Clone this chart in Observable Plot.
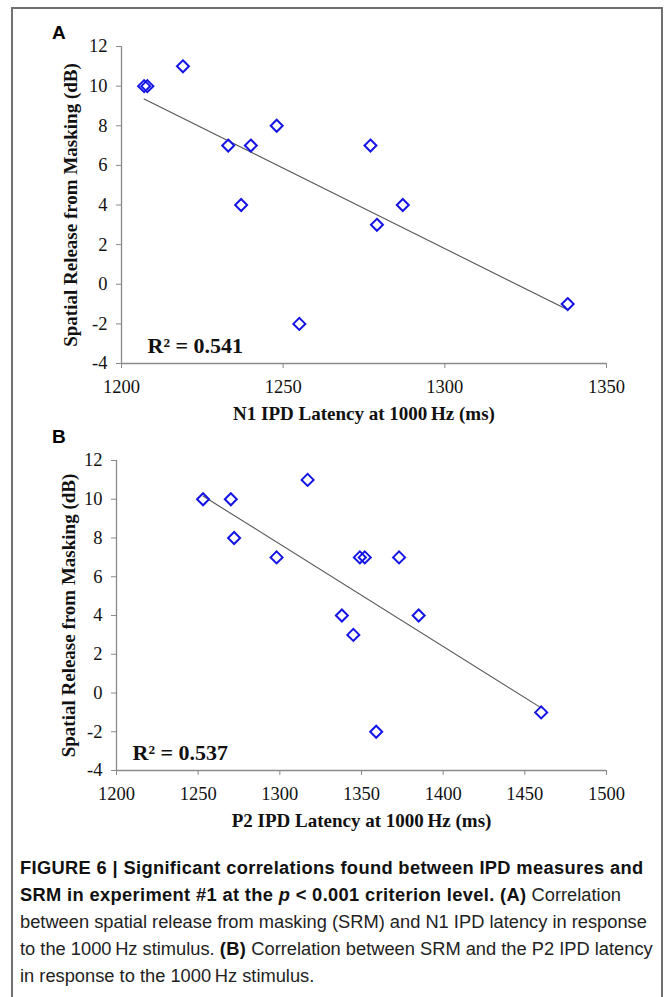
<!DOCTYPE html>
<html>
<head>
<meta charset="utf-8">
<script src="https://cdn.jsdelivr.net/npm/d3@7"></script>
<script src="https://cdn.jsdelivr.net/npm/@observablehq/plot@0.6"></script>
<style>
  html, body { margin: 0; padding: 0; background: #fff; }
  body { width: 667px; height: 997px; position: relative; overflow: hidden; }
  #frame { position: absolute; left: 11px; top: 7px; width: 652px; height: 1000px;
           border: 2px solid #707070; box-sizing: border-box; }
  .panel { position: absolute; left: 0; }
  .panel svg { overflow: visible; }
  .letter { position: absolute; font-family: "Liberation Sans", Arial, sans-serif;
            font-weight: bold; font-size: 19px; color: #000; }
  #caption { position: absolute; left: 20px; top: 854px; width: 640px;
             font-family: "Liberation Sans", Arial, sans-serif; font-size: 18.3px;
             line-height: 27px; color: #222; white-space: nowrap; }
  #caption b { color: #111; letter-spacing: 0.35px; }
</style>
</head>
<body>
<div id="frame"></div>
<div id="panelA" class="panel" style="top:0px"></div>
<div id="panelB" class="panel" style="top:420px"></div>
<div class="letter" style="left:52px; top:22px">A</div>
<div class="letter" style="left:52px; top:426px">B</div>
<div id="caption">
<b>FIGURE 6 | Significant correlations found between IPD measures and</b><br>
<b>SRM in experiment #1 at the <i>p</i> &lt; 0.001 criterion level. (A)</b> Correlation<br>
between spatial release from masking (SRM) and N1 IPD latency in response<br>
to the 1000&#8201;Hz stimulus. <b>(B)</b> Correlation between SRM and the P2 IPD latency<br>
in response to the 1000&#8201;Hz stimulus.
</div>
<script>
// ---- Data ----
const latencyA = [1207, 1208, 1219, 1233, 1240, 1248, 1237, 1255, 1277, 1279, 1287, 1338];
const srmA     = [10,   10,   11,   7,    7,    8,    4,    -2,   7,    3,    4,    -1];
const latencyB = [1253, 1270, 1272, 1298, 1317, 1338, 1345, 1349, 1352, 1373, 1385, 1359, 1460];
const srmB     = [10,   10,   8,    7,    11,   4,    3,    7,    7,    7,    4,    -2,   -1];

const yTicks  = [-4, -2, 0, 2, 4, 6, 8, 10, 12];
const xTicksA = [1200, 1250, 1300, 1350];
const xTicksB = [1200, 1250, 1300, 1350, 1400, 1450, 1500];

const yTitle  = "Spatial Release from Masking (dB)";
const xTitleA = "N1 IPD Latency at 1000\u2009Hz (ms)";
const xTitleB = "P2 IPD Latency at 1000\u2009Hz (ms)";
const r2A = "R\u00b2 = 0.541";
const r2B = "R\u00b2 = 0.537";

function makePanel({xs, ys, xTicks, xTitle, r2, ml, mr, mt, mb, h, yTitleDx, r2dx}) {
  const data = xs.map((x, i) => ({x, y: ys[i]}));
  const x0 = xTicks[0], x1 = xTicks[xTicks.length - 1];
  return Plot.plot({
    width: 667,
    height: h,
    marginLeft: ml, marginRight: mr, marginTop: mt, marginBottom: mb,
    style: {fontFamily: "'Liberation Serif', 'Times New Roman', serif", fontSize: "18px", background: "transparent", color: "#111", overflow: "visible"},
    x: {domain: [x0, x1], ticks: xTicks},
    y: {domain: [-4, 12], ticks: yTicks},
    marks: [
      Plot.ruleY([-4], {stroke: "#8a8a8a", strokeWidth: 1.3}),
      Plot.ruleX([x0], {stroke: "#8a8a8a", strokeWidth: 1.3}),
      Plot.axisX({ticks: xTicks, tickSize: 5, tickPadding: 11, stroke: "#8a8a8a", fill: "#111",
                  tickFormat: d => String(d), label: null, fontSize: 18.5}),
      Plot.axisY({ticks: yTicks, tickSize: 5, tickPadding: 9, stroke: "#8a8a8a", fill: "#111",
                  tickFormat: d => String(d), label: null, fontSize: 18.5}),
      Plot.linearRegressionY(data, {x: "x", y: "y", ci: 0, stroke: "#555", strokeWidth: 1.1}),
      Plot.dot(data, {x: "x", y: "y", symbol: "diamond2", r: 5.4, stroke: "#1414e6", strokeWidth: 2, fill: "none"}),
      Plot.text([xTitle], {frameAnchor: "bottom", dy: 50, text: d => d, textAnchor: "middle", lineAnchor: "middle",
                           fontWeight: "bold", fontSize: 19, fill: "#111"}),
      Plot.text([yTitle], {frameAnchor: "left", dx: yTitleDx, rotate: -90, text: d => d, textAnchor: "middle", lineAnchor: "middle",
                           fontWeight: "bold", fontSize: 19, fill: "#111"}),
      Plot.text([r2], {frameAnchor: "bottom-left", dx: r2dx, dy: -18, textAnchor: "start", lineAnchor: "middle",
                       text: d => d, fontWeight: "bold", fontSize: 22, fill: "#111"})
    ]
  });
}

document.getElementById("panelA").appendChild(makePanel({
  xs: latencyA, ys: srmA, xTicks: xTicksA, xTitle: xTitleA, r2: r2A,
  ml: 121, mr: 61, mt: 46, mb: 67, h: 430, yTitleDx: -51, r2dx: 26
}));
document.getElementById("panelB").appendChild(makePanel({
  xs: latencyB, ys: srmB, xTicks: xTicksB, xTitle: xTitleB, r2: r2B,
  ml: 116, mr: 61, mt: 40, mb: 70, h: 420, yTitleDx: -48, r2dx: 16
}));
</script>
</body>
</html>
